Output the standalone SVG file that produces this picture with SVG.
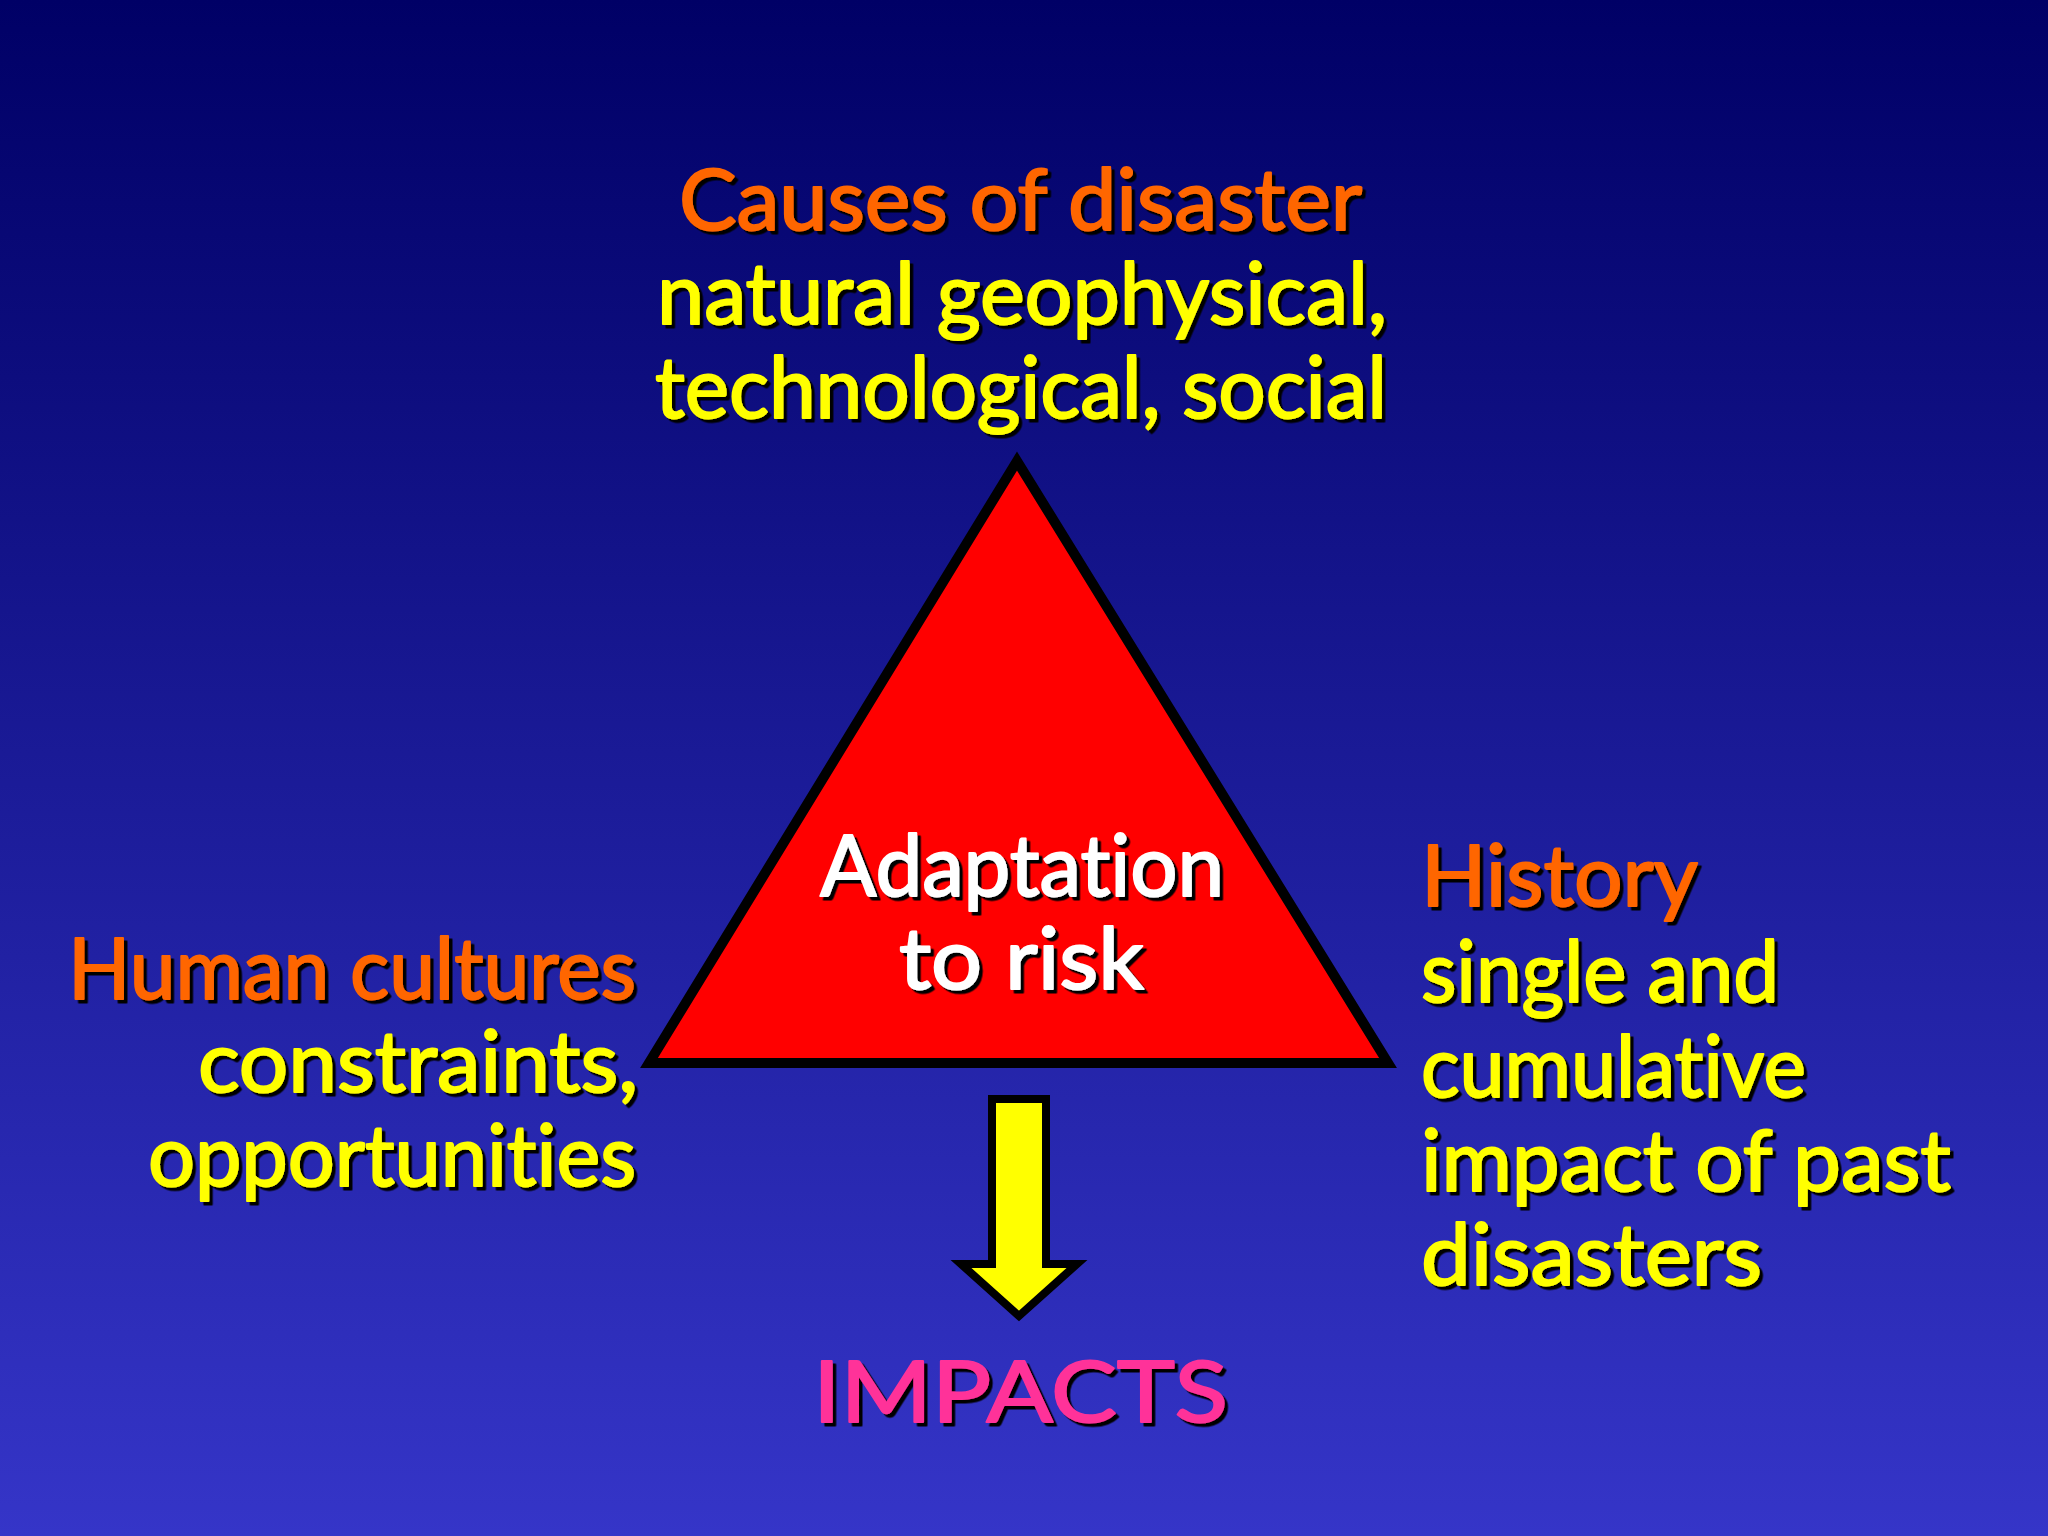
<svg xmlns="http://www.w3.org/2000/svg" width="2048" height="1536" viewBox="0 0 2048 1536">
<defs>
<linearGradient id="bg" x1="0" y1="0" x2="0" y2="1">
<stop offset="0" stop-color="#000066"/>
<stop offset="1" stop-color="#3535c8"/>
</linearGradient>
<filter id="sh" x="-5%" y="-20%" width="110%" height="140%">
<feDropShadow dx="3.5" dy="3.5" stdDeviation="0.6" flood-color="#000000" flood-opacity="1"/>
</filter>
</defs>
<style>
text{font-family:"Comic Sans MS","Lato","DejaVu Sans",sans-serif;font-size:86px;font-weight:normal;font-variant-ligatures:none;stroke-width:2;stroke-linejoin:round;filter:url(#sh)}
.or{fill:#ff6600;stroke:#ff6600}
.ye{fill:#ffff00;stroke:#ffff00}
.wh{fill:#ffffff;stroke:#ffffff}
.pk{fill:#ff3399;stroke:#ff3399}
</style>
<rect x="0" y="0" width="2048" height="1536" fill="url(#bg)"/>

<g id="node-adaptation">
<polygon points="1017,461 649,1063 1388,1063" fill="#ff0000" stroke="#000000" stroke-width="10" stroke-linejoin="miter"/>
<text class="wh" x="820" y="896" textLength="404" lengthAdjust="spacingAndGlyphs">Adaptation</text>
<text class="wh" x="899" y="989" textLength="245" lengthAdjust="spacingAndGlyphs">to risk</text>
</g>

<g id="node-causes">
<text class="or" x="679" y="230" textLength="683" lengthAdjust="spacingAndGlyphs">Causes of disaster</text>
<text class="ye" x="657" y="324" textLength="730" lengthAdjust="spacingAndGlyphs">natural geophysical,</text>
<text class="ye" x="655" y="418" textLength="732" lengthAdjust="spacingAndGlyphs">technological, social</text>
</g>

<g id="node-human">
<text class="or" x="68" y="999" textLength="568" lengthAdjust="spacingAndGlyphs">Human cultures</text>
<text class="ye" x="198" y="1092" textLength="440" lengthAdjust="spacingAndGlyphs">constraints,</text>
<text class="ye" x="148" y="1186" textLength="488" lengthAdjust="spacingAndGlyphs">opportunities</text>
</g>

<g id="node-history">
<text class="or" x="1421" y="906" textLength="277" lengthAdjust="spacingAndGlyphs">History</text>
<text class="ye" x="1421" y="1002" textLength="358" lengthAdjust="spacingAndGlyphs">single and</text>
<text class="ye" x="1421" y="1097" textLength="385" lengthAdjust="spacingAndGlyphs">cumulative</text>
<text class="ye" x="1421" y="1191" textLength="530" lengthAdjust="spacingAndGlyphs">impact of past</text>
<text class="ye" x="1421" y="1285" textLength="341" lengthAdjust="spacingAndGlyphs">disasters</text>
</g>

<g id="node-impacts">
<text class="pk" x="813" y="1422" textLength="415" lengthAdjust="spacingAndGlyphs">IMPACTS</text>
</g>

<g id="connectors">
<polygon points="992,1099 1046,1099 1046,1264 1077,1264 1019,1316 961,1264 992,1264" fill="#ffff00" stroke="#000000" stroke-width="8" stroke-linejoin="miter"/>
</g>
</svg>
